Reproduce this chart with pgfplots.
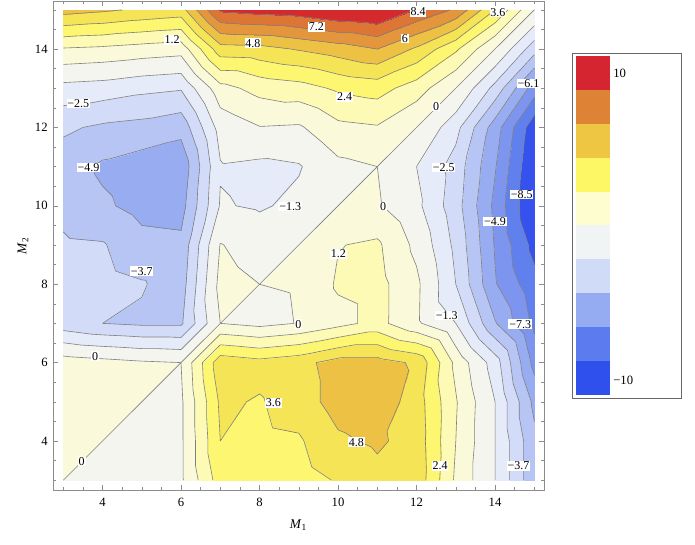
\documentclass[border=0pt]{standalone}
\usepackage{fontspec}
\setmainfont{Liberation Serif}
\usepackage{pgfplots}
\pgfplotsset{compat=1.18}
\usepackage{pgfplotstable}

% grid values f(M1,M2): rows = M2, columns c3..c15 = M1
\pgfplotstableread{
y   c3    c4    c5    c6    c7    c8    c9    c10   c11   c12   c13   c14   c15
15  5.3   5.0   4.6   4.3   8.6   8.9   9.1   9.6   9.8   8.3   7.0   3.6   0
14  1.1   0.95  0.7   0.5   4.3   4.4   4.9   5.4   6.0   4.6   2.6   0     -3.2
13  -1.7  -1.85 -2.2  -2.4  0.8   1.6   1.9   2.6   2.9   1.8   0     -2.9  -6.7
12  -3.5  -3.9  -4.1  -4.5  -0.8  -0.05 -0.15 0.9   1.1   0     -2.1  -5.5  -9.3
11  -4.3  -5.1  -5.5  -5.8  -1.4  -1.6  -1.4  -0.3  0     -1.3  -3.0  -6.0  -9.7
10  -4.1  -4.7  -5.3  -5.4  -1.2  -1.45 -1.0  0     0.15  -1.0  -3.2  -6.4  -9.8
9   -3.5  -3.6  -4.5  -4.6  0.05  -0.5  0     1.15  1.4   -0.3  -2.8  -6.2  -8.9
8   -3.2  -3.3  -3.6  -4.3  0.4   0     0.1   1.35  1.6   0.25  -2.5  -6.0  -8.1
7   -3.2  -3.7  -3.9  -3.9  0     -0.35 0.05  0.8   1.6   0.2   -1.3  -4.8  -7.6
6   0.65  0.4   0.15  0     4.4   4.0   4.4   5.3   5.3   4.6   0.9   -1.9  -6.5
5   0.7   0.5   0     -0.2  3.8   3.5   4.2   5.3   5.6   4.2   1.3   -1.3  -5.2
4   0.6   0     -0.6  -0.2  3.6   3.3   3.45  4.6   5.0   4.3   1.2   -1.3  -4.6
3   0     -0.6  -0.5  -0.2  3.0   3.1   3.1   3.7   4.4   4.4   1.0   -1.3  -4.6
}\grid

\ExplSyntaxOn
\prop_new:N \g_ct_prop
\tl_new:N \g_ct_tri_tl
\tl_new:N \g_ct_lin_tl
\seq_new:N \l_ct_pts_seq
\fp_new:N \l_ct_t_fp
\clist_new:N \g_ct_levels_clist
\clist_gset:Nn \g_ct_levels_clist {-8.5,-7.3,-6.1,-4.9,-3.7,-2.5,-1.3,0,1.2,2.4,3.6,4.8,6,7.2,8.4}

\cs_new_protected:Npn \ct_load:N #1
 {
  \int_step_inline:nnn {0}{12}
   {
    \pgfplotstablegetelem{##1}{y}\of #1
    \tl_set_eq:NN \l_tmpa_tl \pgfplotsretval
    \int_step_inline:nnn {3}{15}
     {
      \pgfplotstablegetelem{##1}{c####1}\of #1
      \use:e { \prop_gput:Nnn \exp_not:N \g_ct_prop { ####1 , \int_eval:n { \l_tmpa_tl } } { \pgfplotsretval } }
     }
   }
 }
\cs_new:Npn \ct_v:nn #1#2 { \prop_item:Nn \g_ct_prop {#1,#2} }

\cs_new_protected:Npn \ct_edge:nnnnnnn #1#2#3#4#5#6#7
 {
  \int_compare:nNnF { \fp_eval:n { (#3) < (#7) } } = { \fp_eval:n { (#6) < (#7) } }
   {
    \fp_set:Nn \l_ct_t_fp { ((#7) - (#3)) / ((#6) - (#3)) }
    \seq_put_right:Nx \l_ct_pts_seq
     { ( \fp_eval:n { round( (#1) + \l_ct_t_fp * ((#4) - (#1)), 4) } ,
         \fp_eval:n { round( (#2) + \l_ct_t_fp * ((#5) - (#2)), 4) } ) }
   }
 }

\cs_new_protected:Npn \ct_tri:nnnnnnnnn #1#2#3#4#5#6#7#8#9
 {
  \tl_gput_right:Nn \g_ct_tri_tl { #1~#2~#3\\ #4~#5~#6\\ #7~#8~#9\\ }
  \clist_map_inline:Nn \g_ct_levels_clist
   {
    \seq_clear:N \l_ct_pts_seq
    \ct_edge:nnnnnnn {#1}{#2}{#3}{#4}{#5}{#6}{##1}
    \ct_edge:nnnnnnn {#4}{#5}{#6}{#7}{#8}{#9}{##1}
    \ct_edge:nnnnnnn {#7}{#8}{#9}{#1}{#2}{#3}{##1}
    \int_compare:nNnT { \seq_count:N \l_ct_pts_seq } = { 2 }
     { \tl_gput_right:Nx \g_ct_lin_tl { \seq_use:Nn \l_ct_pts_seq { ~ } ~ (nan,nan) ~ } }
   }
 }

\cs_new_protected:Npn \ct_cell:nnnn #1#2#3#4
 {
  \use:e
   {
    \exp_not:N \ct_tri:nnnnnnnnn
     {#1}{#2}{\ct_v:nn{#1}{#2}}
     {#3}{#2}{\ct_v:nn{#3}{#2}}
     {#3}{#4}{\ct_v:nn{#3}{#4}}
    \exp_not:N \ct_tri:nnnnnnnnn
     {#1}{#2}{\ct_v:nn{#1}{#2}}
     {#3}{#4}{\ct_v:nn{#3}{#4}}
     {#1}{#4}{\ct_v:nn{#1}{#4}}
   }
 }

\cs_new_protected:Npn \ct_build:
 {
  \tl_gset:Nn \g_ct_tri_tl { x ~ y ~ f \\ }
  \tl_gclear:N \g_ct_lin_tl
  \int_step_inline:nnn {3}{14}
   {
    \int_step_inline:nnn {3}{14}
     {
      \use:e { \exp_not:N \ct_cell:nnnn {####1}{##1}{\int_eval:n{####1+1}}{\int_eval:n{##1+1}} }
     }
   }
  \cs_gset_eq:NN \CTtri \g_ct_tri_tl
  \cs_gset_eq:NN \CTlin \g_ct_lin_tl
 }
\cs_new_eq:NN \ctload \ct_load:N
\cs_new_eq:NN \ctbuild \ct_build:
\ExplSyntaxOff

\ctload\grid
\ctbuild
\def\doread#1{\pgfplotstableread[row sep=\\]{#1}\tritable}
\expandafter\doread\expandafter{\CTtri}

\definecolor{b0}{HTML}{3552EE}
\definecolor{b1}{HTML}{6080EE}
\definecolor{b2}{HTML}{7D95EF}
\definecolor{b3}{HTML}{98ADF1}
\definecolor{b4}{HTML}{B7C5F5}
\definecolor{b5}{HTML}{D2DBF8}
\definecolor{b6}{HTML}{E6EBF9}
\definecolor{b7}{HTML}{F4F5EF}
\definecolor{b8}{HTML}{FAF9D9}
\definecolor{b9}{HTML}{FDFAB5}
\definecolor{b10}{HTML}{FDF670}
\definecolor{b11}{HTML}{F6E457}
\definecolor{b12}{HTML}{EDC244}
\definecolor{b13}{HTML}{E3963B}
\definecolor{b14}{HTML}{DD7535}
\definecolor{b15}{HTML}{D42A2E}

\definecolor{lg1}{HTML}{D42530}
\definecolor{lg2}{HTML}{DE8236}
\definecolor{lg3}{HTML}{EEC644}
\definecolor{lg4}{HTML}{FEF765}
\definecolor{lg5}{HTML}{FEFDD0}
\definecolor{lg6}{HTML}{F0F4F4}
\definecolor{lg7}{HTML}{D0DBF8}
\definecolor{lg8}{HTML}{96ACF2}
\definecolor{lg9}{HTML}{5B7BEE}
\definecolor{lg10}{HTML}{3050EE}

\def\plotlines#1{\addplot[line width=0.45pt, color=black!50, unbounded coords=jump, filter discard warning=false, forget plot] coordinates {#1};}

\begin{document}
\begin{tikzpicture}[lab/.style={fill=white, inner sep=0.6pt, font=\fontsize{9}{9.5}\selectfont}]
\path[use as bounding box] (0,0) rectangle (521.25pt,408.75pt);
\begin{axis}[
  at={(39.75pt,41.25pt)}, anchor=south west,
  scale only axis, width=368.25pt, height=366.75pt,
  xmin=2.738, xmax=15.247, ymin=2.75, ymax=15.225,
  xtick={4,6,...,14}, ytick={4,6,...,14},
  minor xtick={3,3.5,...,15}, minor ytick={3,3.5,...,15},
  tick align=inside, major tick length=3.5pt, minor tick length=2pt,
  tick style={black!45, line width=0.4pt},
  axis line style={black!45, line width=0.5pt},
  ticklabel style={font=\fontsize{9.5}{10}\selectfont},
  xticklabel style={yshift=-2.5pt},
  yticklabel style={xshift=-0.5pt},
  /pgf/number format/assume math mode=true,
  xlabel={\textit{M}\textsubscript{1}},
  ylabel={\textit{M}\textsubscript{2}},
  label style={font=\fontsize{10}{10}\selectfont},
  xlabel style={at={(axis description cs:0.5,-0.0716)}, anchor=center},
  ylabel style={at={(axis description cs:-0.061,0.5)}, anchor=center},
  colormap={bands}{color(0cm)=(b0) color(3.5cm)=(b1) color(4.7cm)=(b2) color(5.9cm)=(b3) color(7.1cm)=(b4) color(8.3cm)=(b5) color(9.5cm)=(b6) color(10.7cm)=(b7) color(12cm)=(b8) color(13.2cm)=(b9) color(14.4cm)=(b10) color(15.6cm)=(b11) color(16.8cm)=(b12) color(18cm)=(b13) color(19.2cm)=(b14) color(20.4cm)=(b15) color(24cm)=(b15)},
  colormap access=piecewise constant,
  point meta min=-12, point meta max=12,
]
\addplot[patch, patch type=triangle, shader=interp, point meta=explicit] table[x=x, y=y, meta=f] {\tritable};
\expandafter\plotlines\expandafter{\CTlin}

\node[lab] at (axis cs:5.77,14.23) {1.2};
\node[lab] at (axis cs:7.83,14.15) {4.8};
\node[lab] at (axis cs:9.45,14.57) {7.2};
\node[lab] at (axis cs:12.04,14.95) {8.4};
\node[lab] at (axis cs:11.70,14.27) {6};
\node[lab] at (axis cs:14.07,14.93) {3.6};
\node[lab] at (axis cs:10.17,12.78) {2.4};
\node[lab] at (axis cs:12.50,12.53) {0};
\node[lab] at (axis cs:14.85,13.12) {−6.1};
\node[lab] at (axis cs:3.38,12.61) {−2.5};
\node[lab] at (axis cs:3.64,10.98) {−4.9};
\node[lab] at (axis cs:8.78,9.98) {−1.3};
\node[lab] at (axis cs:11.15,9.98) {0};
\node[lab] at (axis cs:12.69,10.98) {−2.5};
\node[lab] at (axis cs:14.68,10.29) {−8.5};
\node[lab] at (axis cs:5.0,8.33) {−3.7};
\node[lab] at (axis cs:10.01,8.77) {1.2};
\node[lab] at (axis cs:14.0,9.6) {−4.9};
\node[lab] at (axis cs:3.81,6.16) {0};
\node[lab] at (axis cs:8.99,6.98) {0};
\node[lab] at (axis cs:12.77,7.20) {−1.3};
\node[lab] at (axis cs:14.64,6.98) {−7.3};
\node[lab] at (axis cs:8.35,4.97) {3.6};
\node[lab] at (axis cs:10.47,3.97) {4.8};
\node[lab] at (axis cs:3.47,3.48) {0};
\node[lab] at (axis cs:12.6,3.36) {2.4};
\node[lab] at (axis cs:14.6,3.36) {−3.7};
\end{axis}

% legend
\fill[lg1]  (432pt,366.75pt)  rectangle (457.5pt,341.325pt);
\fill[lg2]  (432pt,341.325pt) rectangle (457.5pt,315.9pt);
\fill[lg3]  (432pt,315.9pt)   rectangle (457.5pt,290.475pt);
\fill[lg4]  (432pt,290.475pt) rectangle (457.5pt,265.05pt);
\fill[lg5]  (432pt,265.05pt)  rectangle (457.5pt,239.625pt);
\fill[lg6]  (432pt,239.625pt) rectangle (457.5pt,214.2pt);
\fill[lg7]  (432pt,214.2pt)   rectangle (457.5pt,188.775pt);
\fill[lg8]  (432pt,188.775pt) rectangle (457.5pt,163.35pt);
\fill[lg9]  (432pt,163.35pt)  rectangle (457.5pt,137.925pt);
\fill[lg10] (432pt,137.925pt) rectangle (457.5pt,112.5pt);
\draw[black!60, line width=0.5pt] (429pt,110.25pt) rectangle (510.75pt,369pt);
\node[anchor=west, inner sep=0pt, font=\fontsize{9.5}{10}\selectfont] at (459.75pt,354pt) {10};
\node[anchor=west, inner sep=0pt, font=\fontsize{9.5}{10}\selectfont] at (459.75pt,123.75pt) {−10};
\end{tikzpicture}
\end{document}
